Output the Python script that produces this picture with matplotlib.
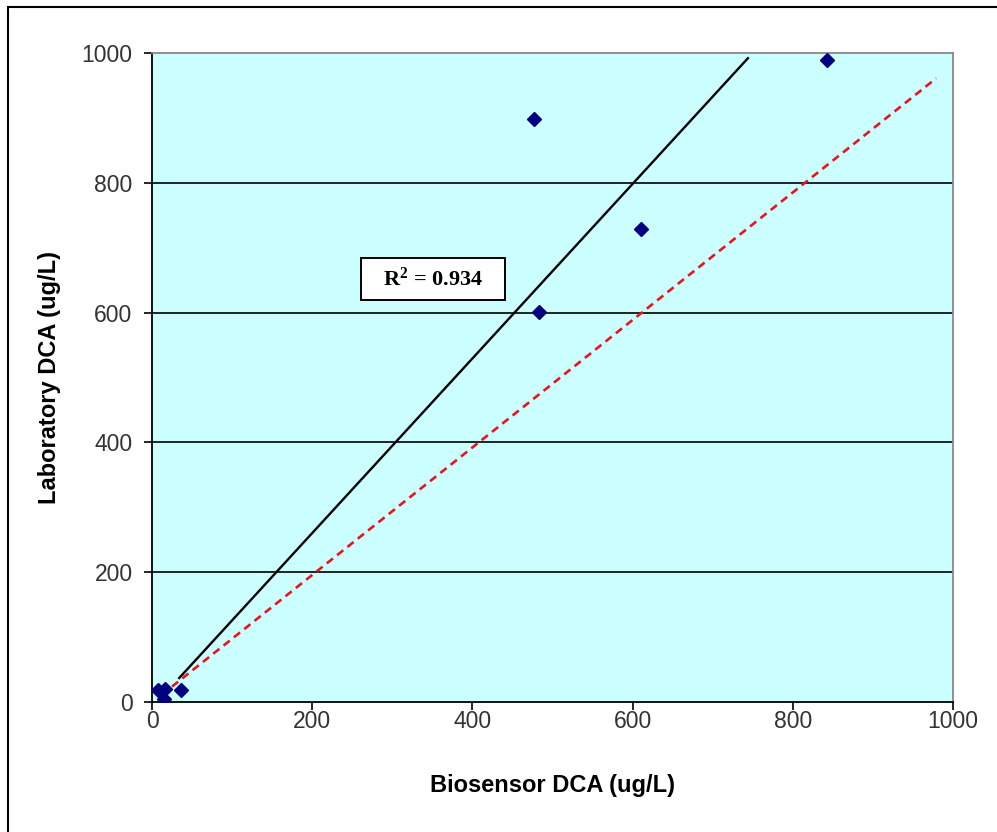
import matplotlib.pyplot as plt
from matplotlib.patches import Rectangle

plt.rcParams['mathtext.fontset'] = 'custom'
plt.rcParams['mathtext.rm'] = 'Liberation Serif:bold'
plt.rcParams['mathtext.it'] = 'Liberation Serif:bold'
plt.rcParams['mathtext.bf'] = 'Liberation Serif:bold'

# Measured DCA values (ug/L)
biosensor = [8, 16, 15, 36, 477, 483, 610, 843]
laboratory = [18, 20, 5, 18, 898, 601, 729, 989]

# Regression line end points and 1:1 reference line
fit_x = [34, 744]
fit_y = [37, 992]
ref_x = [12, 979]
ref_y = [11, 961]

r2_text = r'R$^{\mathrm{2}}$ = 0.934'
ticks = [0, 200, 400, 600, 800, 1000]

fig = plt.figure(figsize=(9.97, 8.32), dpi=100)
fig.patches.append(Rectangle((8 / 997, -0.05), 1.1, 1 - 7 / 832 + 0.05,
                             transform=fig.transFigure, fill=False,
                             edgecolor='black', linewidth=1.5))

ax = fig.add_axes([152 / 997, 1 - 702 / 832, (953 - 152) / 997, (702 - 53) / 832])
ax.set_facecolor('#CCFFFF')

for y in ticks[1:-1]:
    ax.axhline(y, color='black', linewidth=1.2, zorder=1)

ax.plot(fit_x, fit_y, color='black', linewidth=1.7, zorder=2)
ax.plot(ref_x, ref_y, color='#E8141E', linewidth=1.9, linestyle=(0, (3, 2)), zorder=2)
ax.plot(biosensor, laboratory, linestyle='none', marker='D', markersize=7.5,
        color='#000080', zorder=3)

# R^2 label box
ax.add_patch(Rectangle((261, 619), 180, 65, facecolor='white',
                       edgecolor='black', linewidth=1.4, zorder=4))
ax.text(351, 651, r2_text, ha='center', va='center', fontsize=16,
        family='Liberation Serif', fontweight='bold', zorder=5)

ax.set_xlim(0, 1000)
ax.set_ylim(0, 1000)
ax.set_xticks(ticks)
ax.set_yticks(ticks)
ax.tick_params(direction='out', length=6, width=1.2, color='black',
               labelsize=16.5, labelcolor='#333333')
ax.tick_params(axis='x', pad=0)
ax.tick_params(axis='y', pad=8)
for lab in ax.get_xticklabels() + ax.get_yticklabels():
    lab.set_family('Liberation Sans')

for side in ['left', 'bottom']:
    ax.spines[side].set_color('black')
    ax.spines[side].set_linewidth(1.3)
for side in ['top', 'right']:
    ax.spines[side].set_color('#888888')
    ax.spines[side].set_linewidth(1.3)

ax.set_xlabel('Biosensor DCA (ug/L)', fontsize=17, fontweight='bold',
              family='Liberation Sans', labelpad=29)
ax.set_ylabel('Laboratory DCA (ug/L)', fontsize=17, fontweight='bold',
              family='Liberation Sans', labelpad=15)

fig.savefig('out.png', dpi=100)
